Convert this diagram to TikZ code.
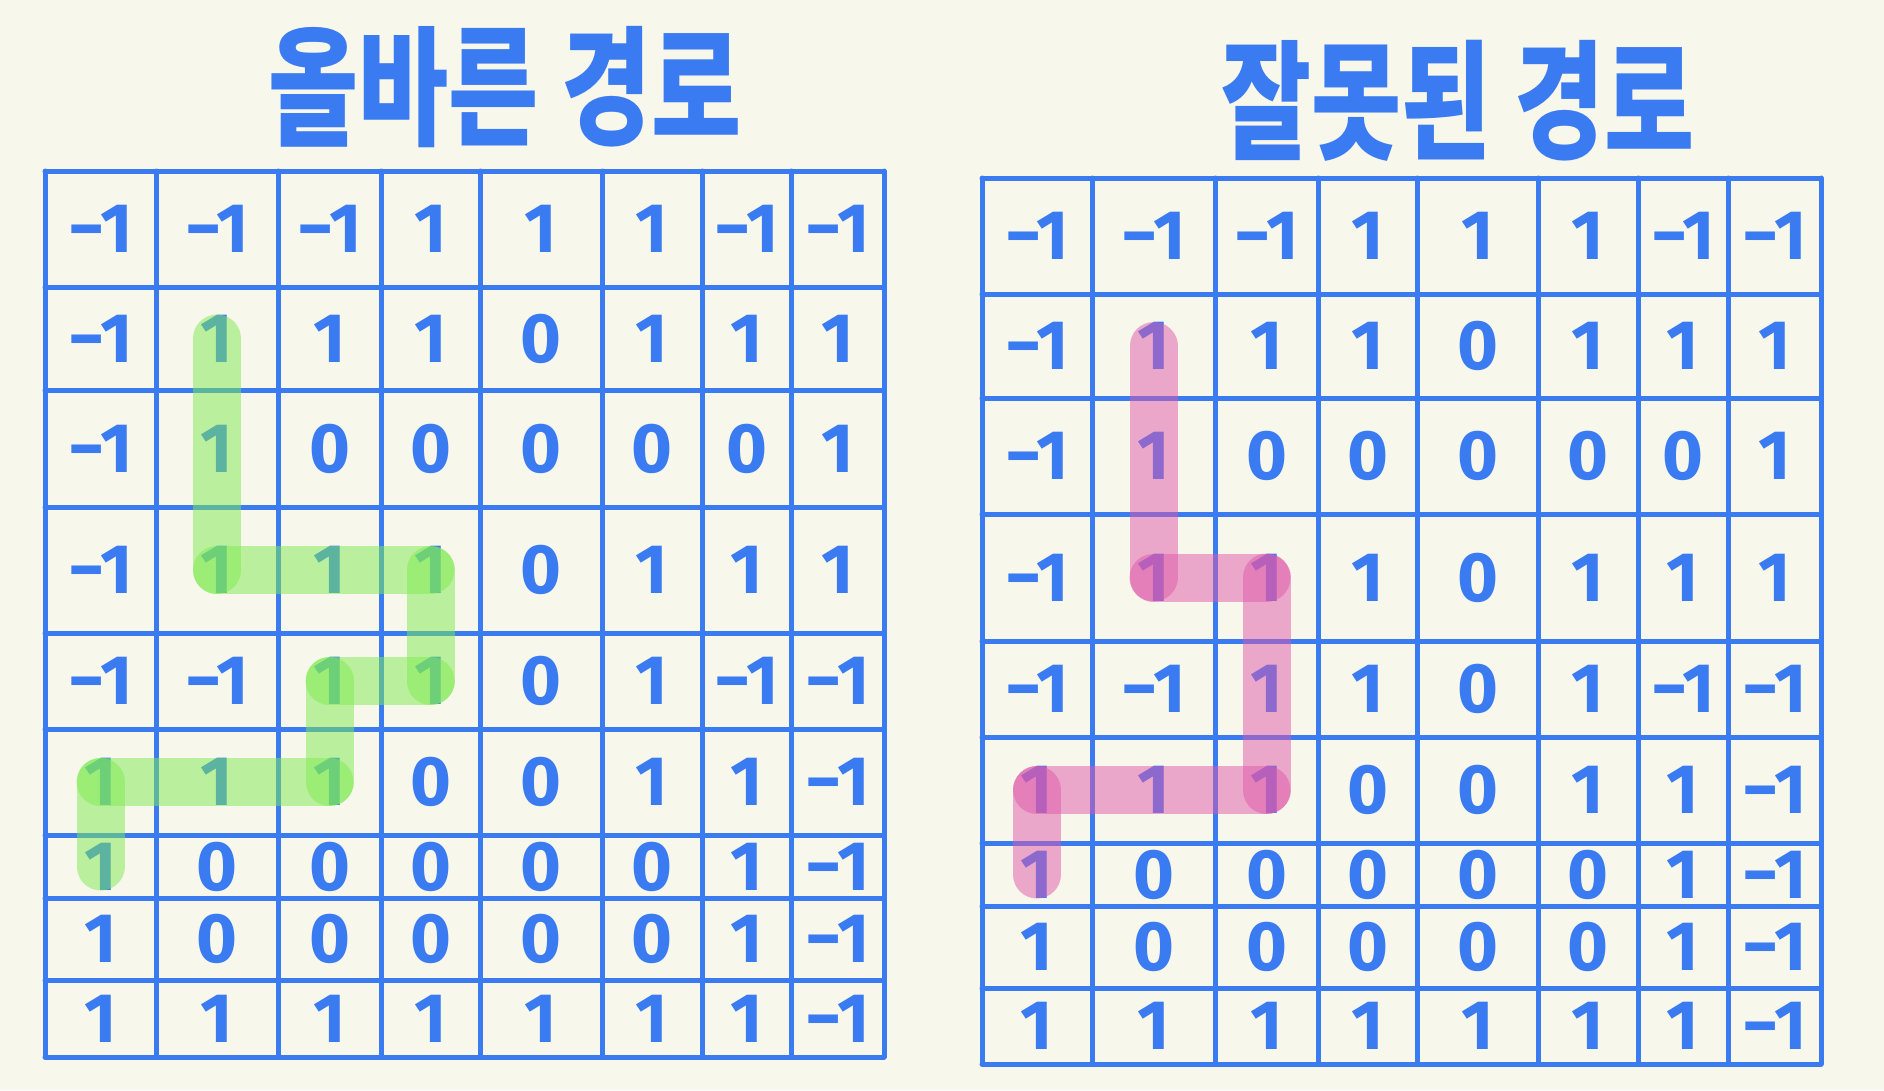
\documentclass[tikz,border=0pt]{standalone}
\usepackage{graphicx}
\usepackage{fontspec}
\setmainfont{Fira Sans}
\newfontfamily\krfont{Noto Sans CJK KR}
\definecolor{bg}{HTML}{F7F7EB}
\definecolor{pen}{HTML}{3B7BF2}
\definecolor{hlgreen}{HTML}{7EEB50}
\definecolor{hlpink}{HTML}{DF59AB}
\newcommand\lcx[1]{\ifcase#1\or 100.5\or 217\or 329.5\or 430.5\or 541\or 652\or 746.5\or 837.5\fi}
\newcommand\lcy[1]{\ifcase#1\or 229\or 338.5\or 448.5\or 570\or 681\or 782\or 866.5\or 939\or 1018.5\fi}
\newcommand\rcx[1]{\ifcase#1\or 1037\or 1153.5\or 1266.5\or 1367.5\or 1477.5\or 1588\or 1683\or 1774.5\fi}
\newcommand\rcy[1]{\ifcase#1\or 236\or 346\or 456\or 577.5\or 689\or 790\or 874.5\or 947\or 1026\fi}
\newcommand\digitgrid[3]{%
  \foreach \rowvals [count=\r] in {{-1,-1,-1,1,1,1,-1,-1},{-1,1,1,1,0,1,1,1},{-1,1,0,0,0,0,0,1},{-1,1,1,1,0,1,1,1},{-1,-1,1,1,0,1,-1,-1},{1,1,1,0,0,1,1,-1},{1,0,0,0,0,0,1,-1},{1,0,0,0,0,0,1,-1},{1,1,1,1,1,1,1,-1}}{%
    \foreach \v [count=\c] in \rowvals {%
      \pgfmathsetmacro\cx{#2{\c}}%
      \pgfmathsetmacro\cy{#3{\r}}%
      \node[digit] (#1-\r-\c) at (\cx,\cy) {\ifnum\v<0 −1\else\v\fi};
    }%
  }%
}
\begin{document}
\begin{tikzpicture}[x=1pt,y=-1pt,
  gridline/.style={draw=pen,line width=5pt,line cap=round},
  digit/.style={text=pen,font=\fontsize{70}{70}\selectfont\bfseries,inner sep=0pt},
  titletext/.style={text=pen,font=\krfont\bfseries\fontsize{98}{98}\selectfont,inner sep=0pt},
  hl/.style={line width=48pt,line cap=round,draw opacity=0.5},
  hlg/.style={hl,draw=hlgreen},
  hlp/.style={hl,draw=hlpink}]
\fill[bg] (0,0) rectangle (1884,1090);
\useasboundingbox (0,0) rectangle (1884,1090);

% titles
\node[titletext] (ttlL) at (505,87) {\scalebox{1}[1.32]{올바른 경로}};
\node[titletext] (ttlR) at (1458,101) {\scalebox{1}[1.32]{잘못된 경로}};

% grids
\foreach \x in {45,156,278,381,480,602,702,791,884}
  \draw[gridline] (\x,171) -- (\x,1057);
\foreach \y in {171,287,390,507,633,729,835,898,980,1057}
  \draw[gridline] (45,\y) -- (884,\y);
\foreach \x in {982,1092,1215,1318,1417,1538,1638,1728,1821}
  \draw[gridline] (\x,178) -- (\x,1064);
\foreach \y in {178,294,398,514,641,737,843,906,988,1064}
  \draw[gridline] (982,\y) -- (1821,\y);

% digits
\digitgrid{L}{\lcx}{\lcy}
\digitgrid{R}{\rcx}{\rcy}

% correct path (green)
\draw[hlg] (L-2-2.center) -- (L-4-2.center);
\draw[hlg] (L-4-2.center) -- (L-4-4.center);
\draw[hlg] (L-4-4.center) -- (L-5-4.center);
\draw[hlg] (L-5-4.center) -- (L-5-3.center);
\draw[hlg] (L-5-3.center) -- (L-6-3.center);
\draw[hlg] (L-6-3.center) -- (L-6-1.center);
\draw[hlg] (L-6-1.center) -- (L-7-1.center);

% wrong path (pink)
\draw[hlp] (R-2-2.center) -- (R-4-2.center);
\draw[hlp] (R-4-2.center) -- (R-4-3.center);
\draw[hlp] (R-4-3.center) -- (R-6-3.center);
\draw[hlp] (R-6-3.center) -- (R-6-1.center);
\draw[hlp] (R-6-1.center) -- (R-7-1.center);
\end{tikzpicture}
\end{document}
